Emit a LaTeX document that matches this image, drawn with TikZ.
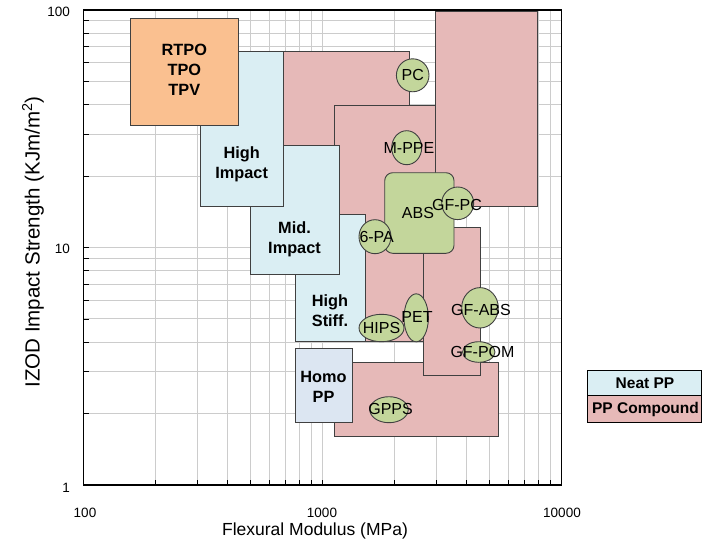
\documentclass[tikz,border=0pt]{standalone}
\usepackage{fontspec}
\setmainfont{Liberation Sans}
\definecolor{neat}{HTML}{DAEEF3}
\definecolor{comp}{HTML}{E6B9B8}
\definecolor{tpo}{HTML}{FAC090}
\definecolor{olive}{HTML}{C3D69B}
\definecolor{homo}{HTML}{DCE6F2}
\definecolor{edge}{HTML}{404040}
\definecolor{gridc}{HTML}{CCCCCC}
\begin{document}
\begin{tikzpicture}[x=1pt,y=-1pt,
  gridline/.style={draw=gridc,line width=1pt},
  tickline/.style={draw=black,line width=0.9pt},
  region/.style={draw=edge,line width=0.9pt},
  compbox/.style={region,fill=comp},
  neatbox/.style={region,fill=neat},
  homobox/.style={region,fill=homo},
  tpobox/.style={region,fill=tpo},
  resin/.style={region,fill=olive},
  boxlabel/.style={font=\fontsize{16.3}{20}\selectfont\bfseries,align=center,inner sep=0pt},
  tag/.style={font=\fontsize{16}{19}\selectfont,inner sep=0pt},
  ticklabel/.style={font=\fontsize{13.5}{16}\selectfont,inner sep=0pt},
  axistitle/.style={font=\fontsize{17.5}{20}\selectfont,inner sep=0pt},
  legendtext/.style={font=\fontsize{15.5}{18}\selectfont\bfseries,inner sep=0pt}]
\useasboundingbox (0,0) rectangle (702,546);

% log grid: one decade = 239 (x) and 237.5 (y)
\foreach \d in {0,1}{
  \foreach \l in {0.30103,0.47712,0.60206,0.69897,0.77815,0.84510,0.90309,0.95424}{
    \pgfmathsetmacro\gx{83.5+239*(\d+\l)}
    \pgfmathsetmacro\gy{485-237.5*(\d+\l)}
    \draw[gridline] (\gx,10) -- (\gx,485);
    \draw[gridline] (83.5,\gy) -- (561.5,\gy);
  }
}
\draw[gridline] (322.5,10) -- (322.5,485);
\draw[gridline] (83.5,247.5) -- (561.5,247.5);

% PP compound regions
\filldraw[compbox] (283,51) rectangle (409,200);
\filldraw[compbox] (334,105.3) rectangle (435.3,341.5);
\filldraw[compbox] (435.3,11) rectangle (537.3,206.7);
\filldraw[compbox] (334,362.3) rectangle (498.3,436);
\filldraw[compbox] (423.3,227.3) rectangle (480,375);

% neat PP regions
\filldraw[neatbox] (295.7,214) rectangle (365,341.7);
\filldraw[neatbox] (250,145.7) rectangle (339,274);
\filldraw[neatbox] (200.7,51) rectangle (283,206);
\filldraw[homobox] (295.7,348.3) rectangle (352.3,422.3);
\filldraw[tpobox] (130.7,18.3) rectangle (238,125.3);

% engineering resins
\filldraw[resin,rounded corners=8pt] (384.7,172.7) rectangle (454,253.3);
\filldraw[resin] (412.7,75.3) ellipse [x radius=16.3, y radius=16.5];
\filldraw[resin] (406.7,147.7) ellipse [x radius=15, y radius=17];
\filldraw[resin] (457.7,203.3) ellipse [x radius=16, y radius=16.3];
\filldraw[resin] (375,236.7) ellipse [x radius=16, y radius=17];
\filldraw[resin] (381.5,328) ellipse [x radius=22.5, y radius=13.7];
\filldraw[resin] (416.2,317.8) ellipse [x radius=12.2, y radius=24];
\filldraw[resin] (480,307.8) ellipse [x radius=18.3, y radius=20.2];
\filldraw[resin] (478.8,352) ellipse [x radius=16.2, y radius=10.3];
\filldraw[resin] (389,409.7) ellipse [x radius=19.2, y radius=13];

% labels of the regions
\node[boxlabel] (rtpo) at (184.3,70) {RTPO\\TPO\\TPV};
\node[boxlabel] (himp) at (241.7,164.3) {High\\Impact};
\node[boxlabel] (mimp) at (294.5,239.3) {Mid.\\Impact};
\node[boxlabel] (hstiff) at (330,311) {High\\Stiff.};
\node[boxlabel] (homo) at (323.5,387.3) {Homo\\PP};

\node[tag] (pc) at (412.7,75.3) {PC};
\node[tag] (mppe) at (409,148) {M-PPE};
\node[tag] (abs) at (418,213.3) {ABS};
\node[tag] (gfpc) at (457,205) {GF-PC};
\node[tag] (pa) at (376.7,237) {6-PA};
\node[tag] (hips) at (381.5,327.5) {HIPS};
\node[tag] (pet) at (417,316.7) {PET};
\node[tag] (gfabs) at (481,310) {GF-ABS};
\node[tag] (gfpom) at (482.5,352.3) {GF-POM};
\node[tag] (gpps) at (390.6,409.3) {GPPS};

% frame and inward ticks
\foreach \d in {0,1}{
  \foreach \l in {0,0.30103,0.47712,0.60206,0.69897,0.77815,0.84510,0.90309,0.95424}{
    \pgfmathsetmacro\gx{83.5+239*(\d+\l)}
    \pgfmathsetmacro\gy{485-237.5*(\d+\l)}
    \draw[tickline] (\gx,485) -- (\gx,480);
    \draw[tickline] (83.5,\gy) -- (88.5,\gy);
  }
}
\draw[line width=1.3pt] (83.5,10) rectangle (561.5,485);

% axis numbers
\node[ticklabel,anchor=east] (y100) at (70,12) {100};
\node[ticklabel,anchor=east] (y10) at (70,249) {10};
\node[ticklabel,anchor=east] (y1) at (70,487.5) {1};
\node[ticklabel] (x100) at (85,512.5) {100};
\node[ticklabel] (x1000) at (322,512.5) {1000};
\node[ticklabel] (x10000) at (562,512.5) {10000};

% axis titles
\node[axistitle] (xtitle) at (315,531) {Flexural Modulus (MPa)};
\node[axistitle,font=\fontsize{20.5}{24}\selectfont,rotate=90] (ytitle) at (33,242)
  {IZOD Impact Strength (KJm/m\textsuperscript{2})};

% legend
\filldraw[draw=black,line width=0.8pt,fill=neat] (587.3,370) rectangle (701,395.7);
\filldraw[draw=black,line width=0.8pt,fill=comp] (587.3,395.7) rectangle (701,422.3);
\node[legendtext] (lneat) at (645,383.5) {Neat PP};
\node[legendtext] (lcomp) at (645.5,409.5) {PP Compound};
\end{tikzpicture}
\end{document}
